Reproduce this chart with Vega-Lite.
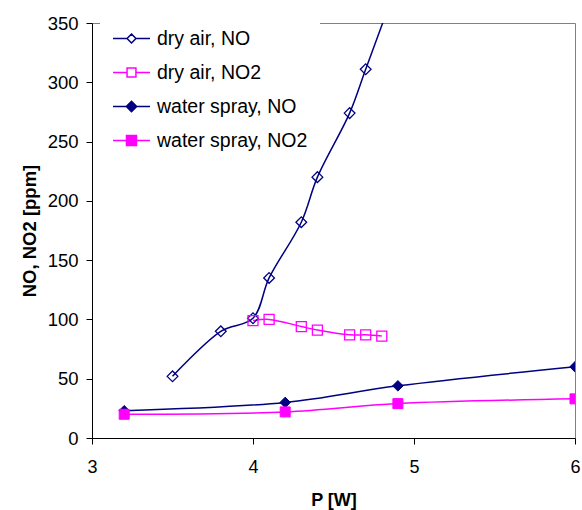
{
  "$schema": "https://vega.github.io/schema/vega-lite/v6.json",
  "width": 483,
  "height": 415,
  "autosize": {"type": "none"},
  "padding": {"left": 92, "top": 23, "right": 7, "bottom": 72},
  "background": "white",
  "config": {
    "font": "Liberation Sans",
    "view": {"stroke": "#808080", "strokeWidth": 1}
  },
  "data": {
    "values": [
      {"series": "dry air, NO", "P": 3.5, "v": 52},
      {"series": "dry air, NO", "P": 3.8, "v": 90},
      {"series": "dry air, NO", "P": 4.0, "v": 101},
      {"series": "dry air, NO", "P": 4.1, "v": 135},
      {"series": "dry air, NO", "P": 4.3, "v": 182},
      {"series": "dry air, NO", "P": 4.4, "v": 220},
      {"series": "dry air, NO", "P": 4.6, "v": 274},
      {"series": "dry air, NO", "P": 4.7, "v": 311},
      {"series": "dry air, NO", "P": 4.9, "v": 385},
      {"series": "dry air, NO2", "P": 4.0, "v": 99},
      {"series": "dry air, NO2", "P": 4.1, "v": 100},
      {"series": "dry air, NO2", "P": 4.3, "v": 94},
      {"series": "dry air, NO2", "P": 4.4, "v": 91},
      {"series": "dry air, NO2", "P": 4.6, "v": 87},
      {"series": "dry air, NO2", "P": 4.7, "v": 87},
      {"series": "dry air, NO2", "P": 4.8, "v": 86},
      {"series": "water spray, NO", "P": 3.2, "v": 23},
      {"series": "water spray, NO", "P": 4.2, "v": 30},
      {"series": "water spray, NO", "P": 4.9, "v": 44},
      {"series": "water spray, NO", "P": 6.0, "v": 60},
      {"series": "water spray, NO2", "P": 3.2, "v": 20},
      {"series": "water spray, NO2", "P": 4.2, "v": 22},
      {"series": "water spray, NO2", "P": 4.9, "v": 29},
      {"series": "water spray, NO2", "P": 6.0, "v": 33}
    ]
  },
  "encoding": {
    "x": {
      "field": "P", "type": "quantitative",
      "scale": {"domain": [3, 6], "nice": false, "zero": false},
      "axis": {
        "values": [3, 4, 5, 6], "title": "P [W]", "grid": false,
        "domainColor": "black", "tickColor": "black", "tickSize": 6,
        "labelFontSize": 18, "labelColor": "black", "labelPadding": 14,
        "labelFlush": false,
        "titleFontSize": 18, "titleFontWeight": "bold", "titleColor": "black", "titlePadding": 15
      }
    },
    "y": {
      "field": "v", "type": "quantitative",
      "scale": {"domain": [0, 350], "nice": false},
      "axis": {
        "values": [0, 50, 100, 150, 200, 250, 300, 350], "title": "NO, NO2 [ppm]", "grid": false,
        "domainColor": "black", "tickColor": "black", "tickSize": 6,
        "labelFontSize": 18.5, "labelColor": "black", "labelPadding": 8,
        "titleFontSize": 18.5, "titleFontWeight": "bold", "titleColor": "black", "titlePadding": 8
      }
    }
  },
  "layer": [
    {
      "mark": {"type": "line", "interpolate": "catmull-rom", "strokeWidth": 1.5, "clip": true},
      "encoding": {
        "stroke": {
          "field": "series", "type": "nominal",
          "scale": {
            "domain": ["dry air, NO", "dry air, NO2", "water spray, NO", "water spray, NO2"],
            "range": ["#000080", "#FF00FF", "#000080", "#FF00FF"]
          },
          "legend": {
            "orient": "none", "legendX": 8, "legendY": -16, "title": null,
            "fillColor": "white", "padding": 12,
            "labelFont": "Liberation Sans", "labelFontSize": 19.5, "labelColor": "black",
            "labelOffset": 6, "symbolSize": 1369, "symbolStrokeWidth": 1.5, "rowPadding": 5,
            "encode": {
              "symbols": {
                "update": {
                  "shape": {"signal": "datum.value === 'dry air, NO' ? 'M-1,0L-0.24,0M0.24,0L1,0M0,-0.24L0.24,0L0,0.24L-0.24,0Z' : datum.value === 'dry air, NO2' ? 'M-1,0L-0.24,0M0.24,0L1,0M-0.24,-0.24L0.24,-0.24L0.24,0.24L-0.24,0.24Z' : datum.value === 'water spray, NO' ? 'M-1,0L1,0M0,-0.28L0.28,0L0,0.28L-0.28,0Z' : 'M-1,0L1,0M-0.27,-0.27L0.27,-0.27L0.27,0.27L-0.27,0.27Z'"},
                  "fill": {"signal": "indexof(datum.value, 'water') >= 0 ? (indexof(datum.value, 'NO2') >= 0 ? '#FF00FF' : '#000080') : 'transparent'"},
                  "strokeWidth": {"value": 1.5},
                  "size": {"value": 1369},
                  "opacity": {"value": 1},
                  "fillOpacity": {"value": 1}
                }
              }
            }
          }
        }
      }
    },
    {
      "transform": [{"filter": "datum.series === 'dry air, NO'"}],
      "mark": {"type": "point", "shape": "diamond", "filled": false, "stroke": "#000080", "fill": "transparent", "opacity": 1, "strokeWidth": 1.3, "size": 115, "clip": true}
    },
    {
      "transform": [{"filter": "datum.series === 'dry air, NO2'"}],
      "mark": {"type": "point", "shape": "square", "filled": false, "stroke": "#FF00FF", "fill": "transparent", "opacity": 1, "strokeWidth": 1.3, "size": 100, "clip": true}
    },
    {
      "transform": [{"filter": "datum.series === 'water spray, NO'"}],
      "mark": {"type": "point", "shape": "diamond", "filled": true, "stroke": "#000080", "fill": "#000080", "opacity": 1, "strokeWidth": 1, "size": 110, "clip": true}
    },
    {
      "transform": [{"filter": "datum.series === 'water spray, NO2'"}],
      "mark": {"type": "point", "shape": "square", "filled": true, "stroke": "#FF00FF", "fill": "#FF00FF", "opacity": 1, "strokeWidth": 1, "size": 100, "clip": true}
    }
  ]
}
